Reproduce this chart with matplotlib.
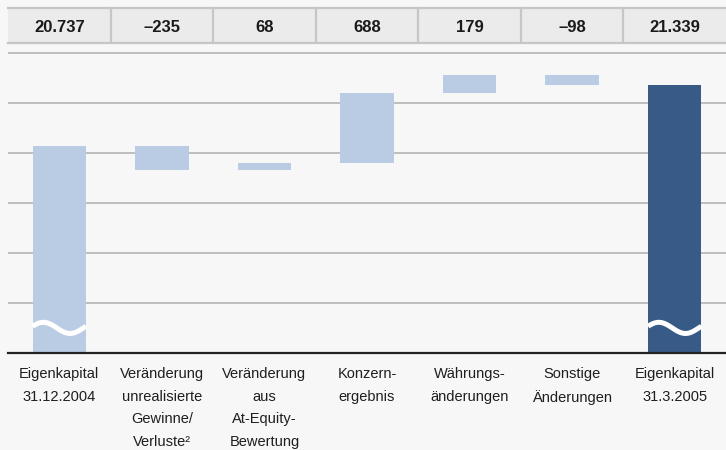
import numpy as np
import matplotlib
matplotlib.use("Agg")
import matplotlib.pyplot as plt
from matplotlib.lines import Line2D
from matplotlib.patches import Rectangle

plt.rcParams['font.family'] = ['Liberation Sans', 'DejaVu Sans']

categories = ["Eigenkapital\n31.12.2004", "Veränderung\nunrealisierte\nGewinne/\nVerluste²",
              "Veränderung\naus\nAt-Equity-\nBewertung", "Konzern-\nergebnis",
              "Währungs-\nänderungen", "Sonstige\nÄnderungen", "Eigenkapital\n31.3.2005"]
start_value = 20737
changes = [-235, 68, 688, 179, -98]
end_value = 21339
header_labels = ["20.737", "–235", "68", "688", "179", "–98", "21.339"]

W, H = 726, 450
fig = plt.figure(figsize=(W / 100, H / 100), dpi=100)
bg = "#f7f7f7"
fig.patch.set_facecolor(bg)

def fx(px):
    return px / W

def fy(py):
    return 1 - py / H

# axes area: x 8..726, y 43..353 (pixels from top)
ax = fig.add_axes([fx(8), fy(353), fx(726) - fx(8), fy(43) - fy(353)])
ax.set_facecolor(bg)
ymin, ymax = 18694, 21753
ax.set_xlim(-0.5, len(categories) - 0.5)
ax.set_ylim(ymin, ymax)
grid_step = 493.4
for k in range(1, 7):
    ax.axhline(ymin + k * grid_step, color="#b4b4b4", lw=1.2, zorder=1)
ax.axhline(ymin, color="#222222", lw=1.6, zorder=5, clip_on=False)
for s in ax.spines.values():
    s.set_visible(False)
ax.set_xticks([])
ax.set_yticks([])

light = "#bacce4"
dark = "#375a86"
bw = 0.52

# bars
ax.bar(0, start_value - ymin, bottom=ymin, width=bw, color=light, zorder=3)
running = start_value
for i, c in enumerate(changes, start=1):
    lo = min(running, running + c)
    ax.bar(i, abs(c), bottom=lo, width=bw, color=light, zorder=3)
    running += c
ax.bar(len(categories) - 1, end_value - ymin, bottom=ymin, width=bw, color=dark, zorder=3)

# break waves
t = np.linspace(0, 1, 100)
wave_center = ymin + 0.081 * (ymax - ymin)
amp = 0.018 * (ymax - ymin)
for xi in (0, len(categories) - 1):
    xs = xi - bw / 2 + t * bw
    ys = wave_center + amp * np.sin(2 * np.pi * t + 0.3)
    ax.plot(xs, ys, color="white", lw=3.6, zorder=4, solid_capstyle="butt")

# category labels
for i, lab in enumerate(categories):
    ax.text(i, ymin - 0.045 * (ymax - ymin), lab, ha="center", va="top",
            fontsize=10.5, color="#1e1e1e", linespacing=1.78)

# header table
hx0, hx1, hy0, hy1 = 8, 726, 8, 43
fig.patches.append(Rectangle((fx(hx0), fy(hy1)), fx(hx1) - fx(hx0), fy(hy0) - fy(hy1),
                             transform=fig.transFigure, facecolor="#ebebeb",
                             edgecolor="none", zorder=0))
for yy in (hy0, hy1):
    fig.add_artist(Line2D([fx(hx0), fx(hx1)], [fy(yy), fy(yy)], color="#c6c6c6", lw=1.6))
colw = (hx1 - hx0) / len(categories)
for i, lab in enumerate(header_labels):
    cx = hx0 + colw * (i + 0.5)
    fig.text(fx(cx), fy((hy0 + hy1) / 2 + 2), lab, ha="center", va="center",
             fontsize=12, fontweight="bold", color="#1a1a1a")
    if i > 0:
        xb = hx0 + colw * i
        fig.add_artist(Line2D([fx(xb), fx(xb)], [fy(hy0), fy(hy1)], color="#c6c6c6", lw=1.6))

fig.savefig("out.png", dpi=100, facecolor=bg)
